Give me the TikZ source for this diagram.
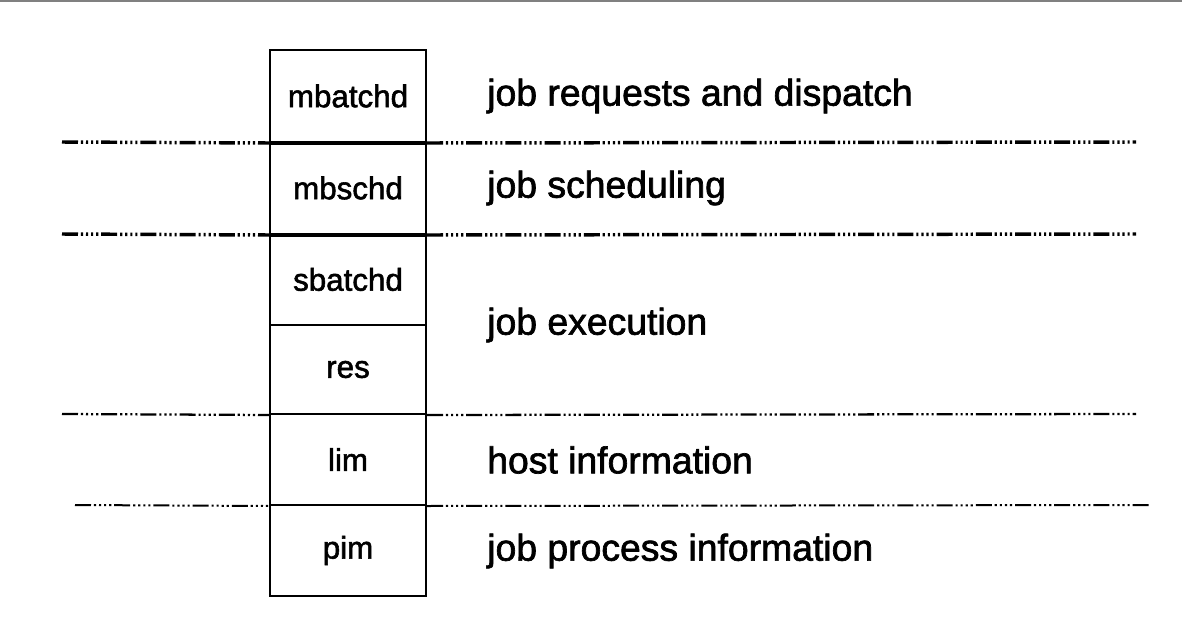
\documentclass[tikz,border=0pt]{standalone}
\usepackage{fontspec}
\setmainfont{Liberation Sans}
\newfontfamily\labelfont{Liberation Sans}[FakeBold=1.8]
\begin{document}
\begin{tikzpicture}[x=0.75pt,y=-0.75pt,
  cell/.style={draw=black,line width=1.5pt,rectangle,inner sep=0pt,
    minimum width=117pt,font=\labelfont\fontsize{23.5}{26}\selectfont},
  layer/.style={anchor=west,inner sep=0pt,font=\labelfont\fontsize{28}{32}\selectfont},
  sepdash/.style={line width=#1,dash pattern=on 12pt off 2.2pt on 1.6pt off 2.2pt on 1.6pt off 2.2pt on 1.6pt off 2.2pt on 1.6pt off 2.2pt},
  sepdash/.default=2.6pt]
  \useasboundingbox (0,0) rectangle (1182,628);
  % thin grey rule along the top edge
  \draw[gray,line width=1.2pt] (0,1) -- (1182,1);

  % stack of daemons
  \node[cell,minimum height=69pt]   (mbatchd) at (348,96)    {mbatchd};
  \node[cell,minimum height=69pt]   (mbschd)  at (348,188)   {mbschd};
  \node[cell,minimum height=68.25pt](sbatchd) at (348,279.5) {sbatchd};
  \node[cell,minimum height=66.75pt](res)     at (348,369.5) {res};
  \node[cell,minimum height=68.25pt](lim)     at (348,459.5) {lim};
  \node[cell,minimum height=68.25pt](pim)     at (348,550.5) {pim};

  % layer descriptions
  \node[layer] (l1) at (487,96)  {job requests and dispatch};
  \node[layer] (l2) at (487,188) {job scheduling};
  \node[layer] (l3) at (487,325) {job execution};
  \node[layer] (l4) at (487,460) {host information};
  \node[layer] (l5) at (487,551) {job process information};

  % layer boundaries
  \coordinate (a1) at (62,142);  \coordinate (b1) at (1136,142);
  \coordinate (a2) at (62,234);  \coordinate (b2) at (1136,234);
  \coordinate (a3) at (62,414);  \coordinate (b3) at (1136,414);
  \coordinate (a4) at (75,505);  \coordinate (b4) at (1150,505);

  \draw[sepdash] (a1) -- (mbatchd.south west);
  \draw[sepdash] (mbatchd.south east) -- (b1);
  \draw[line width=2.6pt] (mbatchd.south west) -- (mbatchd.south east);

  \draw[sepdash] (a2) -- (mbschd.south west);
  \draw[sepdash] (mbschd.south east) -- (b2);
  \draw[line width=2.6pt] (mbschd.south west) -- (mbschd.south east);

  \draw[sepdash=1.7pt] (a3) -- (res.south west);
  \draw[sepdash=1.7pt] (res.south east) -- (b3);

  \draw[sepdash=1.5pt] (a4) -- (lim.south west);
  \draw[sepdash=1.5pt] (lim.south east) -- (b4);
\end{tikzpicture}
\end{document}
